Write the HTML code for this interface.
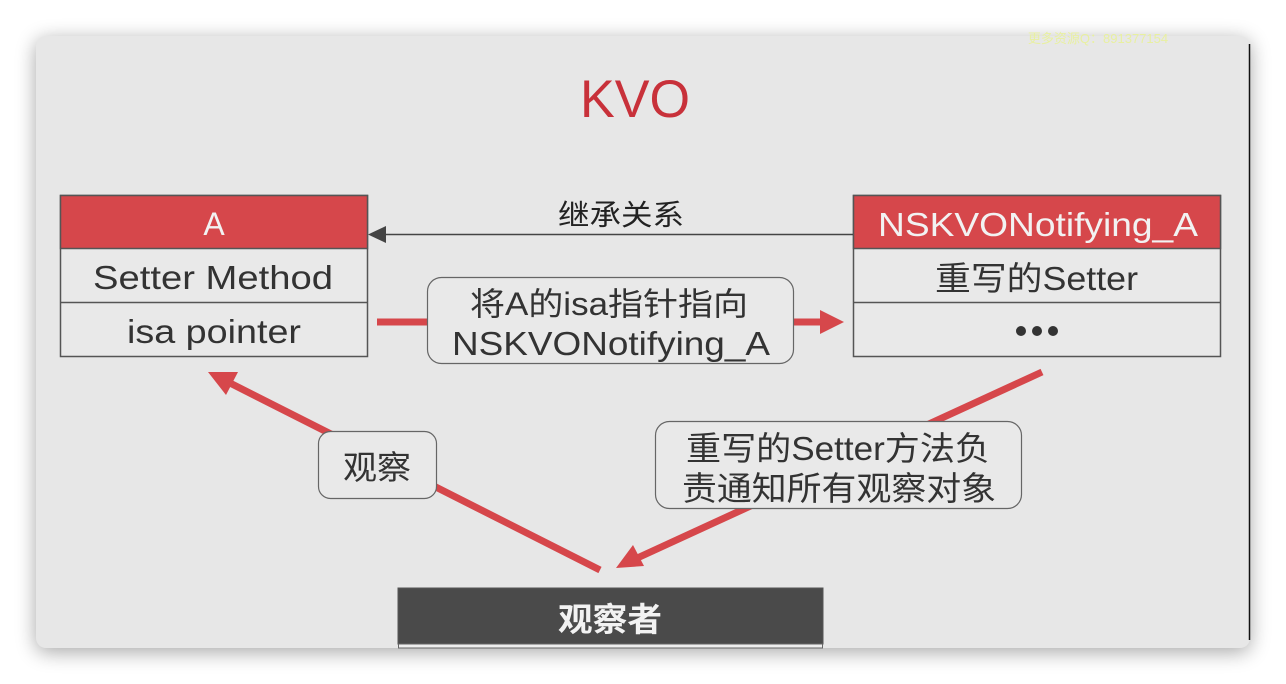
<!DOCTYPE html>
<html><head><meta charset="utf-8"><style>
html,body{margin:0;padding:0;background:#fff;width:1286px;height:684px;overflow:hidden}
text{font-family:"Liberation Sans","Noto Sans CJK SC",sans-serif}
</style></head><body>
<svg width="1286" height="684" viewBox="0 0 1286 684" xmlns="http://www.w3.org/2000/svg">
<defs>
<filter id="sh" x="-5%" y="-10%" width="110%" height="120%"><feGaussianBlur stdDeviation="10"/></filter>
</defs>
<rect x="36" y="40" width="1214" height="612" rx="10" fill="#000" opacity="0.35" filter="url(#sh)"/>
<rect x="36" y="36" width="1214" height="612" rx="10" fill="#e7e7e7"/>
<line x1="1249.5" y1="44" x2="1249.5" y2="640" stroke="#111" stroke-width="1.5"/>
<text x="1098" y="43" font-size="13" fill="#e8f0a0" text-anchor="middle">更多资源Q：891377154</text>
<text x="580" y="117" font-size="53" fill="#c8313a" textLength="110" lengthAdjust="spacingAndGlyphs">KVO</text>

<!-- A box -->
<rect x="60.5" y="195.5" width="307" height="161" fill="#e9e9e9" stroke="#555" stroke-width="1.5"/>
<rect x="60.5" y="195.5" width="307" height="53" fill="#d6474b" stroke="#555" stroke-width="1.5"/>
<line x1="60" y1="302.5" x2="368" y2="302.5" stroke="#555" stroke-width="1.5"/>
<text x="214" y="235" font-size="32" fill="#f2f2f2" text-anchor="middle">A</text>
<text x="93" y="289" font-size="33" fill="#333" textLength="240" lengthAdjust="spacingAndGlyphs">Setter Method</text>
<text x="127" y="343" font-size="33" fill="#333" textLength="174" lengthAdjust="spacingAndGlyphs">isa pointer</text>

<!-- NSKVO box -->
<rect x="853.5" y="195.5" width="367" height="161" fill="#e9e9e9" stroke="#555" stroke-width="1.5"/>
<rect x="853.5" y="195.5" width="367" height="53" fill="#d6474b" stroke="#555" stroke-width="1.5"/>
<line x1="853" y1="302.5" x2="1221" y2="302.5" stroke="#555" stroke-width="1.5"/>
<text x="878" y="236" font-size="33" fill="#f2f2f2" textLength="320" lengthAdjust="spacingAndGlyphs">NSKVONotifying_A</text>
<text x="935" y="290" font-size="33" fill="#333" textLength="203" lengthAdjust="spacingAndGlyphs">重写的Setter</text>
<circle cx="1021" cy="331" r="5" fill="#333"/><circle cx="1037" cy="331" r="5" fill="#333"/><circle cx="1053" cy="331" r="5" fill="#333"/>

<!-- inheritance -->
<line x1="853" y1="234.5" x2="380" y2="234.5" stroke="#444" stroke-width="1.5"/>
<polygon points="368,234.5 386,226 386,243" fill="#444"/>
<text x="558" y="225" font-size="29" fill="#222" textLength="126" lengthAdjust="spacingAndGlyphs">继承关系</text>

<!-- middle red arrow -->
<line x1="377" y1="322" x2="822" y2="322" stroke="#d6474b" stroke-width="7"/>
<polygon points="844,322 820,310 820,334" fill="#d6474b"/>
<rect x="427.5" y="277.5" width="366" height="86" rx="14" fill="#e9e9e9" stroke="#666" stroke-width="1.2"/>
<text x="470" y="315" font-size="32" fill="#333" textLength="278" lengthAdjust="spacingAndGlyphs">将A的isa指针指向</text>
<text x="452" y="355" font-size="33" fill="#333" textLength="318" lengthAdjust="spacingAndGlyphs">NSKVONotifying_A</text>

<!-- left red arrow -->
<line x1="600" y1="570" x2="226" y2="381" stroke="#d6474b" stroke-width="7"/>
<polygon points="208,372 238,372 226,395" fill="#d6474b"/>
<rect x="318.5" y="431.5" width="118" height="67" rx="12" fill="#e9e9e9" stroke="#666" stroke-width="1.2"/>
<text x="343" y="479" font-size="33" fill="#333" textLength="68" lengthAdjust="spacingAndGlyphs">观察</text>

<!-- right red arrow -->
<line x1="1042" y1="372" x2="633" y2="560" stroke="#d6474b" stroke-width="7"/>
<polygon points="616,568 633,545 644,566" fill="#d6474b"/>
<rect x="655.5" y="421.5" width="366" height="87" rx="14" fill="#e9e9e9" stroke="#666" stroke-width="1.2"/>
<text x="686" y="460" font-size="33" fill="#333" textLength="304" lengthAdjust="spacingAndGlyphs">重写的Setter方法负</text>
<text x="682" y="500" font-size="33" fill="#333" textLength="314" lengthAdjust="spacingAndGlyphs">责通知所有观察对象</text>

<!-- observer -->
<rect x="398" y="588" width="425" height="56" fill="#4a4a4a" stroke="#555"/>
<rect x="398.5" y="644" width="424" height="4" fill="#eee" stroke="#666" stroke-width="1"/>
<text x="558" y="631" font-size="33" fill="#f2f2f2" font-weight="bold" textLength="104" lengthAdjust="spacingAndGlyphs">观察者</text>
</svg>
</body></html>
